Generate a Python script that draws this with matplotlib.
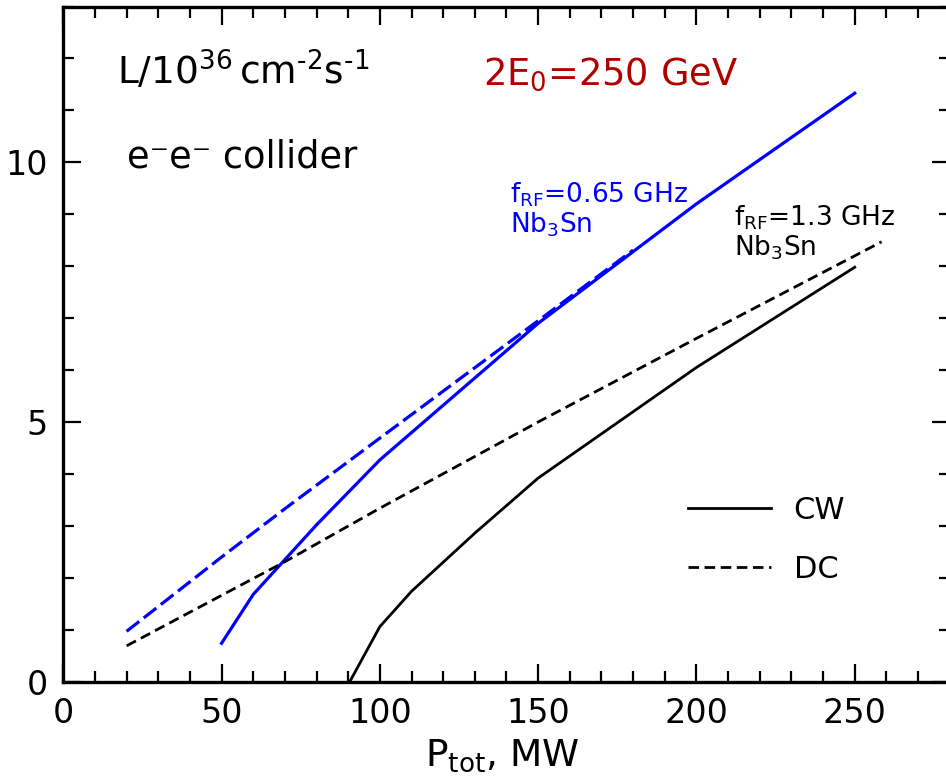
import matplotlib
matplotlib.use('Agg')
import matplotlib.pyplot as plt
from matplotlib.ticker import MultipleLocator

plt.rcParams['font.family'] = ['DejaVu Sans']
plt.rcParams['mathtext.default'] = 'regular'

# f_RF = 0.65 GHz, Nb3Sn
p_cw_065 = [50, 60, 80, 100, 150, 200, 250]
l_cw_065 = [0.74, 1.68, 3.02, 4.27, 6.9, 9.2, 11.33]
p_dc_065 = [20, 50, 70, 100, 150, 180]
l_dc_065 = [0.97, 2.4, 3.33, 4.69, 6.95, 8.31]

# f_RF = 1.3 GHz, Nb3Sn
p_cw_13 = [90.5, 100, 110, 130, 150, 200, 250]
l_cw_13 = [0.0, 1.06, 1.74, 2.86, 3.92, 6.05, 7.98]
p_dc_13 = [20, 70, 100, 150, 200, 258.5]
l_dc_13 = [0.69, 2.31, 3.34, 5.0, 6.61, 8.47]

fig = plt.figure(figsize=(9.46, 7.84), dpi=100)
ax = fig.add_axes([0.0669, 0.1305, 0.937, 0.8612])

ax.plot(p_cw_065, l_cw_065, color='blue', lw=2.3)
ax.plot(p_dc_065, l_dc_065, color='blue', lw=2.3, dashes=(5, 1.8))
cw, = ax.plot(p_cw_13, l_cw_13, color='black', lw=2.0, label='CW')
dc, = ax.plot(p_dc_13, l_dc_13, color='black', lw=2.0, dashes=(3.8, 2.0), label='DC')

ax.set_xlim(0, 280)
ax.set_ylim(0, 13)
ax.xaxis.set_major_locator(MultipleLocator(50))
ax.xaxis.set_minor_locator(MultipleLocator(10))
ax.yaxis.set_major_locator(MultipleLocator(5))
ax.yaxis.set_minor_locator(MultipleLocator(1))
ax.tick_params(which='both', direction='in', top=True, right=True, labelsize=24)
ax.tick_params(which='major', length=13, width=1.6, pad=11)
ax.tick_params(which='minor', length=8, width=1.6)
for s in ax.spines.values():
    s.set_linewidth(2.4)

ax.set_xlabel('P$_{tot}$, MW', fontsize=27)
ax.xaxis.set_label_coords(0.4954, -0.083)

ax.text(17, 11.49, r'L/10$^{36}\,$cm$^{‐2}$s$^{‐1}$', fontsize=27)
ax.text(20, 9.9, 'e⁻e⁻ collider', fontsize=26.5)
ax.text(132.6, 11.49, '2E$_0$=250 GeV', fontsize=26.5, color='#b00000')

ax.text(141, 8.64, 'f$_{RF}$=0.65 GHz\nNb$_3$Sn', fontsize=19, color='blue', linespacing=1.08)
ax.text(212, 8.21, 'f$_{RF}$=1.3 GHz\nNb$_3$Sn', fontsize=19, color='black', linespacing=1.08)

ax.legend(handles=[cw, dc], loc='center left', bbox_to_anchor=(0.705, 0.21),
          frameon=False, fontsize=22, handlelength=2.7, handletextpad=0.75,
          labelspacing=1.0, borderpad=0, borderaxespad=0)

fig.savefig('out.png', dpi=100)
